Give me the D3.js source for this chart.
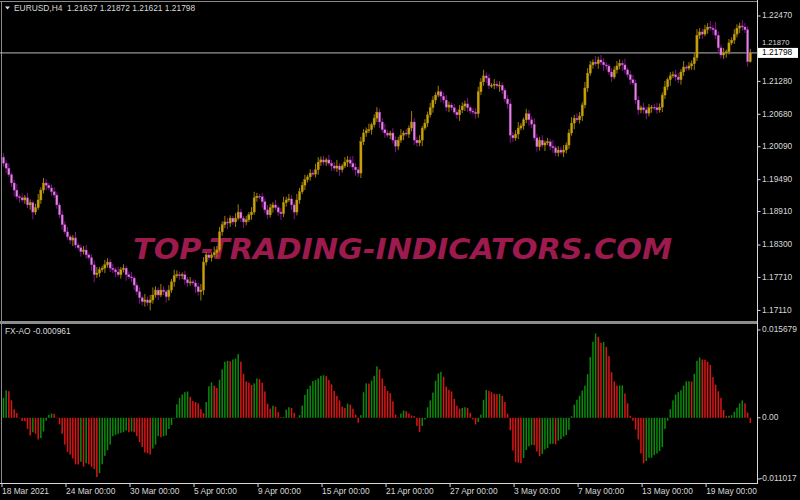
<!DOCTYPE html>
<html><head><meta charset="utf-8">
<script src="https://cdn.jsdelivr.net/npm/d3@7"></script>
<style>body{margin:0;background:#000;}svg{display:block}</style>
</head><body>
<svg id="c" width="800" height="500"></svg>
<script>
// ---------- DATA ----------
const symbolTitle = "EURUSD,H4";
const lastOHLC = ["1.21637", "1.21872", "1.21621", "1.21798"];
const firstOpen = 1.1990;
const closes = [
 1.1979,1.1970,1.1958,1.1943,1.1930,1.1918,1.1916,1.1912,1.1916,1.1903,
 1.1907,1.1890,1.1898,1.1912,1.1930,1.1943,1.1939,1.1934,1.1927,1.1921,
 1.1903,1.1885,1.1867,1.1854,1.1845,1.1839,1.1843,1.1830,1.1825,1.1818,
 1.1821,1.1812,1.1807,1.1794,1.1776,1.1779,1.1785,1.1788,1.1794,1.1799,
 1.1788,1.1785,1.1781,1.1776,1.1785,1.1788,1.1776,1.1772,1.1770,1.1757,
 1.1745,1.1734,1.1727,1.1730,1.1725,1.1730,1.1739,1.1748,1.1739,1.1748,
 1.1745,1.1736,1.1748,1.1763,1.1774,1.1776,1.1774,1.1776,1.1767,1.1761,
 1.1763,1.1761,1.1754,1.1745,1.1748,1.1799,1.1812,1.1807,1.1812,1.1816,
 1.1821,1.1854,1.1867,1.1872,1.1870,1.1879,1.1872,1.1879,1.1890,1.1879,
 1.1872,1.1876,1.1885,1.1890,1.1916,1.1919,1.1918,1.1909,1.1894,1.1885,
 1.1898,1.1903,1.1898,1.1890,1.1887,1.1907,1.1912,1.1914,1.1903,1.1890,
 1.1912,1.1927,1.1939,1.1949,1.1954,1.1961,1.1959,1.1967,1.1981,1.1985,
 1.1981,1.1985,1.1979,1.1974,1.1970,1.1974,1.1967,1.1974,1.1981,1.1985,
 1.1979,1.1972,1.1967,1.1961,1.2018,1.2034,1.2038,1.2040,1.2049,1.2061,
 1.2072,1.2054,1.2040,1.2034,1.2030,1.2034,1.2021,1.2010,1.2021,1.2030,
 1.2034,1.2032,1.2043,1.2054,1.2021,1.2016,1.2021,1.2043,1.2052,1.2067,
 1.2080,1.2094,1.2103,1.2109,1.2101,1.2094,1.2081,1.2085,1.2080,1.2072,
 1.2067,1.2076,1.2083,1.2087,1.2080,1.2074,1.2072,1.2069,1.2109,1.2127,
 1.2138,1.2134,1.2120,1.2121,1.2123,1.2120,1.2121,1.2112,1.2096,1.2087,
 1.2030,1.2025,1.2032,1.2043,1.2047,1.2058,1.2069,1.2058,1.2050,1.2025,
 1.2009,1.2021,1.2012,1.2016,1.2018,1.2010,1.2007,1.1998,1.2003,1.1999,
 1.2003,1.2012,1.2034,1.2052,1.2061,1.2058,1.2065,1.2085,1.2116,1.2143,
 1.2158,1.2163,1.2160,1.2167,1.2163,1.2158,1.2156,1.2145,1.2136,1.2149,
 1.2156,1.2161,1.2158,1.2149,1.2140,1.2131,1.2125,1.2094,1.2076,1.2080,
 1.2076,1.2070,1.2080,1.2081,1.2080,1.2076,1.2081,1.2103,1.2118,1.2131,
 1.2138,1.2140,1.2136,1.2131,1.2145,1.2154,1.2152,1.2156,1.2160,1.2171,
 1.2212,1.2218,1.2214,1.2222,1.2227,1.2225,1.2222,1.2212,1.2189,1.2176,
 1.2180,1.2182,1.2198,1.2203,1.2214,1.2225,1.2229,1.2227,1.2222,1.21637,
 1.21798];
// upper / lower shadow length of each bar, in pips
const wickUp = [
 7,5,9,4,6,11,4,8,5,9,6,4,7,11,5,9,7,4,6,8,
 5,4,8,6,9,4,5,11,4,6,7,9,4,6,8,11,5,4,9,7,
 6,8,4,9,5,7,4,6,9,4,5,8,4,11,6,9,14,7,5,11,
 7,4,9,5,11,8,6,4,7,5,9,4,6,7,11,9,5,7,4,11,
 7,9,6,11,7,5,4,9,14,6,4,7,5,9,11,6,4,7,6,9,
 7,5,9,4,7,11,6,9,7,5,11,7,6,9,4,7,5,11,9,6,
 7,4,9,6,7,11,5,4,9,7,6,13,7,5,9,7,6,11,4,7,
 9,6,7,11,5,4,9,7,6,11,4,7,5,20,7,6,9,4,7,6,
 9,7,5,11,4,7,9,6,4,7,5,9,7,6,11,4,5,7,9,7,
 11,6,7,4,9,6,7,5,4,7,9,6,7,11,5,4,9,7,6,11,
 7,6,9,4,7,5,11,4,7,6,9,5,7,11,6,9,7,5,11,9,
 7,5,11,6,9,7,5,4,7,6,9,7,5,11,4,7,9,6,7,4,
 9,5,7,4,6,9,7,5,11,4,7,6,9,7,5,11,4,7,6,9,
 11,7,6,9,7,11,5,14,7,6,9,4,7,5,9,7,6,11,7,6,
 7.4];
const wickDn = [
 6,9,4,7,11,5,9,4,7,6,9,13,5,4,7,6,9,4,7,5,
 7,6,9,4,5,7,11,6,4,9,5,7,4,11,14,6,7,4,9,5,
 7,6,9,4,7,5,11,4,7,9,6,11,7,9,6,14,7,5,9,4,
 6,11,7,5,9,4,7,6,9,7,5,4,11,7,16,9,6,4,7,5,
 9,4,7,6,11,7,5,9,4,7,11,6,4,9,5,7,4,11,6,7,
 5,9,4,7,11,6,7,4,9,13,6,7,4,9,5,7,4,6,9,7,
 6,7,4,9,5,7,11,5,4,9,7,6,11,7,9,6,7,4,9,5,
 7,11,5,9,4,7,6,11,7,5,9,4,7,6,9,7,6,11,4,7,
 5,9,7,4,11,6,7,9,5,4,7,11,6,9,7,5,4,9,7,6,
 7,9,6,4,7,5,11,7,6,9,14,7,5,9,4,7,6,11,7,5,
 9,7,5,11,4,7,9,6,7,4,9,6,7,5,11,4,7,9,6,7,
 5,7,4,9,6,11,7,5,9,4,7,6,11,7,5,9,4,7,9,6,
 7,11,6,9,4,7,5,9,7,6,11,4,7,6,9,7,5,4,7,11,
 6,7,9,4,7,5,9,7,11,6,7,9,5,4,7,6,9,7,6,9,
 1.6];
const aoValues = [
 0.00371,0.00512,0.00494,0.00324,0.00159,0.00086,-0.00009,-0.00060,-0.00064,-0.00207,
 -0.00329,-0.00269,-0.00298,-0.00403,-0.00379,-0.00256,-0.00055,0.00055,0.00079,0.00073,
 -0.00009,-0.00123,-0.00298,-0.00500,-0.00635,-0.00683,-0.00756,-0.00866,-0.00869,-0.00818,
 -0.00910,-0.00847,-0.00866,-0.00910,-0.00952,-0.011017,-0.01030,-0.00866,-0.00708,-0.00604,
 -0.00500,-0.00342,-0.00317,-0.00298,-0.00280,-0.00269,-0.00238,-0.00269,-0.00256,-0.00269,
 -0.00342,-0.00452,-0.00544,-0.00646,-0.00659,-0.00683,-0.00573,-0.00500,-0.00342,-0.00361,
 -0.00342,-0.00329,-0.00207,-0.00134,-0.00013,0.00251,0.00371,0.00434,0.00476,0.00489,
 0.00390,0.00311,0.00293,0.00269,0.00159,0.00086,0.00293,0.00586,0.00659,0.00598,
 0.00554,0.00708,0.00902,0.01043,0.01061,0.01052,0.01085,0.01103,0.01184,0.01043,
 0.00818,0.00677,0.00653,0.00609,0.00641,0.00732,0.00719,0.00653,0.00489,0.00262,
 0.00170,0.00225,0.00207,0.00104,0.00013,0.00018,0.00152,0.00196,0.00183,0.00092,
 -0.00005,0.00049,0.00225,0.00426,0.00536,0.00598,0.00683,0.00701,0.00732,0.00781,
 0.00792,0.00774,0.00701,0.00622,0.00500,0.00408,0.00324,0.00207,0.00183,0.00262,
 0.00243,0.00170,0.00060,-0.00092,0.00049,0.00476,0.00641,0.00637,0.00690,0.00781,
 0.00957,0.00902,0.00732,0.00591,0.00500,0.00458,0.00306,0.00060,0.00004,0.00079,
 0.00134,0.00123,0.00079,0.00042,0.00031,-0.00152,-0.00262,-0.00152,-0.00031,0.00196,
 0.00324,0.00470,0.00690,0.00824,0.00855,0.00763,0.00580,0.00518,0.00489,0.00353,
 0.00225,0.00170,0.00183,0.00196,0.00183,0.00092,-0.00031,-0.00123,-0.00079,0.00060,
 0.00335,0.00518,0.00500,0.00476,0.00445,0.00439,0.00445,0.00408,0.00293,0.00073,
 -0.00232,-0.00609,-0.00824,-0.00836,-0.00847,-0.00750,-0.00598,-0.00531,-0.00507,-0.00512,
 -0.00628,-0.00714,-0.00672,-0.00591,-0.00562,-0.00489,-0.00485,-0.00494,-0.00426,-0.00397,
 -0.00348,-0.00324,-0.00225,0.00031,0.00243,0.00335,0.00408,0.00507,0.00598,0.00811,
 0.01129,0.01415,0.015679,0.01506,0.01396,0.01409,0.01318,0.01147,0.00847,0.00677,
 0.00597,0.00600,0.00602,0.00452,0.00269,0.00037,-0.00055,-0.00220,-0.00403,-0.00664,
 -0.00847,-0.00805,-0.00745,-0.00741,-0.00695,-0.00664,-0.00622,-0.00544,-0.00207,-0.00055,
 0.00159,0.00324,0.00434,0.00476,0.00512,0.00598,0.00677,0.00679,0.00675,0.00818,
 0.01061,0.01122,0.01085,0.01080,0.01043,0.00983,0.00756,0.00617,0.00494,0.00371,
 0.00146,0.00037,0.00038,0.00049,0.00110,0.00188,0.00269,0.00324,0.00269,0.00097,
 -0.000961];
const aoName = "FX-AO";
const aoLast = "-0.000961";
const dateIndex  = [0, 24, 48, 72, 96, 120, 144, 168, 192, 216, 240, 264];
const dateLabels = ["18 Mar 2021","24 Mar 00:00","30 Mar 00:00","5 Apr 00:00","9 Apr 00:00",
  "15 Apr 00:00","21 Apr 00:00","27 Apr 00:00","3 May 00:00","7 May 00:00","13 May 00:00","19 May 00:00"];
const priceTicks = [1.22470,1.21870,1.21280,1.20680,1.20090,1.19490,1.18910,1.18300,1.17710,1.17110];
const currentPrice = 1.21798;
const aoTicks = [0.015679, 0, -0.011017];
const aoTickLabels = ["0.015679", "0.00", "-0.011017"];
const watermark = "TOP-TRADING-INDICATORS.COM";

// ---------- BUILD BARS ----------
const bars = closes.map((c, i) => {
  const o = i === 0 ? firstOpen : closes[i - 1];
  return { i, o, c, h: Math.max(o, c) + wickUp[i] / 10000, l: Math.min(o, c) - wickDn[i] / 10000 };
});

// ---------- SCALES ----------
const svg = d3.select("#c");
const FONT = "'Liberation Sans', Arial, sans-serif";
const AXX = 757.5;
const x = d3.scaleLinear().domain([0, closes.length - 1]).range([3.5, 750.3]);
const yP = d3.scaleLinear().domain([1.17110, 1.22470]).range([310.4, 16]);
const yA = d3.scaleLinear().domain([-0.011017, 0.015679]).range([477, 333.5]);

svg.append("rect").attr("width", 800).attr("height", 500).attr("fill", "#000");

// watermark (behind the bars)
svg.append("text").attr("x", 133).attr("y", 259)
  .attr("textLength", 539).attr("lengthAdjust", "spacingAndGlyphs")
  .attr("font-family", "'DejaVu Sans', sans-serif").attr("font-weight", "bold")
  .attr("font-style", "italic").attr("font-size", 28.5).attr("fill", "#9c1a4e")
  .text(watermark);

// frame lines
const frame = svg.append("g").attr("fill", "none");
frame.append("line").attr("x1", 0).attr("x2", AXX).attr("y1", 1.5).attr("y2", 1.5).attr("stroke", "#8a8a8a");
frame.append("line").attr("x1", 1.5).attr("x2", 1.5).attr("y1", 1).attr("y2", 483).attr("stroke", "#8a8a8a");
frame.append("rect").attr("x", 0).attr("y", 321).attr("width", AXX).attr("height", 3).attr("fill", "#8c8c8c");
frame.append("line").attr("x1", AXX).attr("x2", AXX).attr("y1", 0).attr("y2", 484).attr("stroke", "#d8d8d8");
frame.append("line").attr("x1", 0).attr("x2", AXX).attr("y1", 483.5).attr("y2", 483.5).attr("stroke", "#d8d8d8");

// current price line
svg.append("line").attr("x1", 0).attr("x2", AXX).attr("y1", yP(currentPrice)).attr("y2", yP(currentPrice))
  .attr("stroke", "#b8b8b8").attr("stroke-width", 1);

// ---------- CANDLES ----------
const cg = svg.append("g");
const up = d => d.c >= d.o;
cg.selectAll("line.w").data(bars).join("line")
  .attr("x1", d => x(d.i)).attr("x2", d => x(d.i))
  .attr("y1", d => yP(d.h)).attr("y2", d => yP(d.l))
  .attr("stroke", d => up(d) ? "#9a8000" : "#84128f").attr("stroke-width", 1);
cg.selectAll("rect.b").data(bars).join("rect")
  .attr("x", d => x(d.i) - 1.1).attr("width", 2.2)
  .attr("y", d => yP(Math.max(d.o, d.c)))
  .attr("height", d => Math.max(1, Math.abs(yP(d.o) - yP(d.c))))
  .attr("fill", d => up(d) ? "#c9a010" : "#de88de")
  .attr("stroke", d => up(d) ? "#a88900" : "#9a2aa6").attr("stroke-width", 0.4);

// ---------- AO HISTOGRAM ----------
const ag = svg.append("g");
ag.selectAll("rect").data(aoValues).join("rect")
  .attr("x", (d, i) => x(i) - 0.75).attr("width", 1.5)
  .attr("y", d => Math.min(yA(d), yA(0)))
  .attr("height", d => Math.max(0.5, Math.abs(yA(d) - yA(0))))
  .attr("fill", (d, i) => (i === 0 || d > aoValues[i - 1]) ? "#0b8a0b" : "#dc1414");

// ---------- AXES ----------
const txt = (g, xx, yy, s, anchor) => g.append("text").attr("x", xx).attr("y", yy)
  .attr("font-family", FONT).attr("font-size", 8.4).attr("fill", "#d8d8d8")
  .attr("dominant-baseline", "middle").attr("text-anchor", anchor || "start").text(s);

const ax = svg.append("g");
priceTicks.forEach(p => {
  ax.append("line").attr("x1", AXX).attr("x2", AXX + 3).attr("y1", yP(p)).attr("y2", yP(p)).attr("stroke", "#d8d8d8");
  // the label nearest the live price is nudged up just above its tag
  const near = Math.abs(p - currentPrice) < 0.002;
  txt(ax, 762, near ? yP(currentPrice) - 10 : yP(p), p.toFixed(5)).attr("font-size", near ? 7.6 : 8.4);
});
// current price tag
ax.append("rect").attr("x", 758).attr("y", yP(currentPrice) - 5).attr("width", 40).attr("height", 10).attr("fill", "#fff");
ax.append("text").attr("x", 762).attr("y", yP(currentPrice)).attr("font-family", FONT).attr("font-size", 8.4)
  .attr("fill", "#000").attr("dominant-baseline", "middle").text(currentPrice.toFixed(5));

aoTicks.forEach((v, k) => {
  const yy = k === 0 ? 330 : (k === 2 ? 479 : yA(v));
  ax.append("line").attr("x1", AXX).attr("x2", AXX + 3).attr("y1", yy).attr("y2", yy).attr("stroke", "#d8d8d8");
  txt(ax, aoTickLabels[k].startsWith("-") ? 759.5 : 762, yy, aoTickLabels[k]);
});

dateIndex.forEach((di, k) => {
  const tx = x(di) - 1.5;
  ax.append("line").attr("x1", tx).attr("x2", tx).attr("y1", 484).attr("y2", 487).attr("stroke", "#d8d8d8");
  txt(ax, tx, 492, dateLabels[k]);
});

// titles
svg.append("path").attr("d", "M5,6.5 L10,6.5 L7.5,9.5 Z").attr("fill", "#e0e0e0");
txt(svg, 14, 8.5, symbolTitle + "  " + lastOHLC.join(" ")).style("white-space", "pre");
txt(svg, 5, 332, aoName + " " + aoLast);
</script>
</body></html>
